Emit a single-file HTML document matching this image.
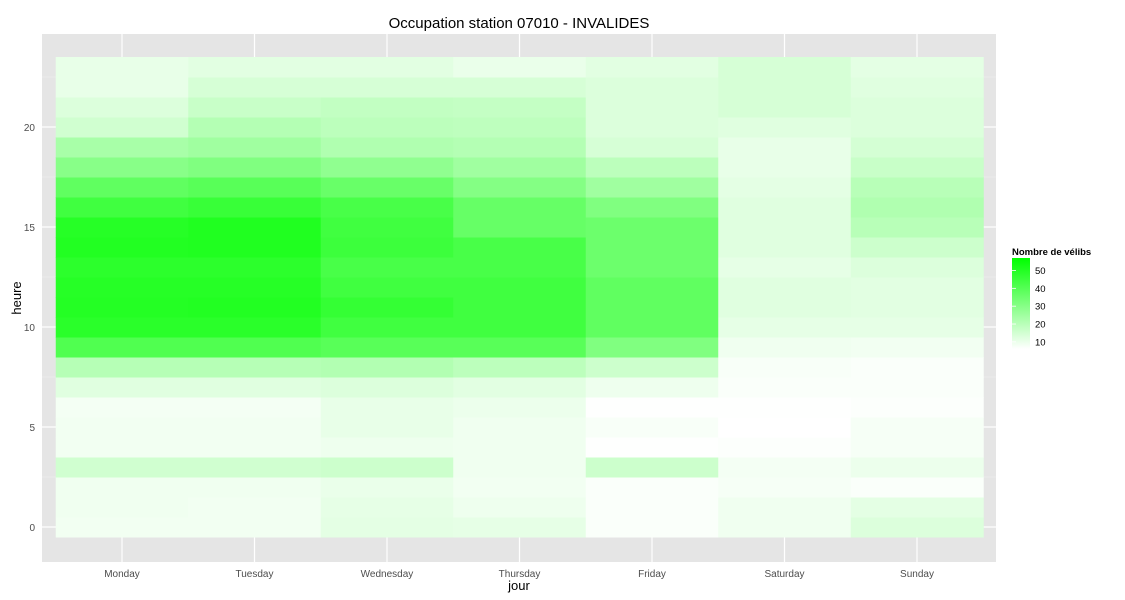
<!DOCTYPE html>
<html><head><meta charset="utf-8">
<style>
body{margin:0;background:#fff;font-family:"Liberation Sans",Arial,sans-serif;}
svg{display:block}
</style></head>
<body>
<svg id="chart" width="1125" height="600" xmlns="http://www.w3.org/2000/svg">
<text x="519" y="28" text-anchor="middle" font-size="15" fill="#000">Occupation station 07010 - INVALIDES</text>
<rect x="42" y="34" width="954" height="528" fill="#e5e5e5"/>
<g id="grid"></g>
<g id="tiles"></g>
<g id="axes"></g>
<text x="519" y="590" text-anchor="middle" font-size="13" fill="#000">jour</text>
<text transform="translate(21,298) rotate(-90)" text-anchor="middle" font-size="13" fill="#000">heure</text>
<g id="legend">
<text x="1012" y="255" font-size="9.5" font-weight="bold" fill="#000">Nombre de vélibs</text>
<defs><linearGradient id="lg" x1="0" y1="1" x2="0" y2="0"><stop offset="0" stop-color="#ffffff"/><stop offset="1" stop-color="#00ff00"/></linearGradient></defs>
<rect x="1012" y="258" width="18" height="91" fill="url(#lg)"/>
</g>
</svg>
<script>
const days = ["Monday","Tuesday","Wednesday","Thursday","Friday","Saturday","Sunday"];
const hours = [0,1,2,3,4,5,6,7,8,9,10,11,12,13,14,15,16,17,18,19,20,21,22,23];
const yTicks = [0,5,10,15,20];
const legendTicks = [10,20,30,40,50];
// values[hour] = [Mon..Sun]
const values = [
[8.6,8.6,11.4,11,7,9,13],
[9,8.6,11,9.4,7,9,11.4],
[9,9,10.2,8.6,7,7.8,7],
[15.4,15.4,16.2,9,16.2,8.2,9.8],
[8.6,8.6,9.4,9,6.2,6.6,7.8],
[8.6,8.6,10.6,9,7.4,6,7.8],
[8.2,8.2,10.6,9.8,6.2,6.2,6.6],
[12.2,12.2,13,11.8,9.4,7,7],
[20.6,20.6,21.4,19.4,16.2,7.4,7],
[41,41,39.4,39.4,31.4,9,8.6],
[48.6,48.6,44.2,44.2,37.8,11,11],
[49.8,50.2,46.6,44.2,37.8,12.2,11.8],
[49.4,49.4,44.2,44.2,37.8,12.2,11.8],
[48.2,48.2,42.6,42.6,35.4,11,13],
[50.2,50.6,45,42.6,35.4,12.2,16.2],
[49.4,50.6,44.2,36.6,35.4,12.2,20.2],
[44.2,45.8,42.6,36.6,31.4,12.2,21.8],
[37.8,39.4,36.2,30.6,25,11.4,20.2],
[29.8,31.4,28.2,25,19.4,10.6,17],
[23.4,25,21.8,21,14.2,10.6,14.6],
[15.4,21,19.4,19,13,12.2,13],
[13,17,18.2,17.8,13,14.2,13],
[10.6,14.2,14.2,14.2,13,14.2,12.2],
[10.6,11.8,11.8,10.2,11.8,14.2,11.4]
];
const NS="http://www.w3.org/2000/svg";
const vMin=6, vMax=57;
const x0=55.75, colW=132.5, yZero=527, rowH=20;
const xPos=i=>x0+colW*(i+0.5);
const yPos=h=>yZero-h*rowH;
const legY=v=>349-(v-vMin)/(vMax-vMin)*91;
function color(v){const t=Math.max(0,Math.min(1,(v-vMin)/(vMax-vMin)));const c=Math.round(255*(1-t));return `rgb(${c},255,${c})`;}
function mk(tag,attrs,parent){const e=document.createElementNS(NS,tag);for(const k in attrs)e.setAttribute(k,attrs[k]);parent.appendChild(e);return e;}
const grid=document.getElementById('grid'),tiles=document.getElementById('tiles'),axes=document.getElementById('axes'),legend=document.getElementById('legend');
// minor y grid
for(let k=0;k<yTicks.length;k++){const v=yTicks[k]+2.5;const l=mk('line',{x1:42,x2:996,y1:yPos(v),y2:yPos(v),stroke:'#f2f2f2','stroke-width':0.6},grid);

}
yTicks.forEach(v=>{const l=mk('line',{x1:42,x2:996,y1:yPos(v),y2:yPos(v),stroke:'#fff','stroke-width':1.2},grid);


const t=mk('text',{x:35,y:yPos(v)+4,'text-anchor':'end','font-size':10,fill:'#4d4d4d'},axes);t.textContent=v;

});
days.forEach((d,i)=>{const l=mk('line',{x1:xPos(i),x2:xPos(i),y1:34,y2:562,stroke:'#fff','stroke-width':1.2},grid);


const t=mk('text',{x:xPos(i),y:577,'text-anchor':'middle','font-size':10,fill:'#4d4d4d'},axes);t.textContent=d;

});
hours.forEach((h,hi)=>{days.forEach((d,i)=>{const r=mk('rect',{x:x0+colW*i,y:yPos(h)-rowH/2,width:colW+0.5,height:rowH+0.5,fill:color(values[hi][i])},tiles);

});});
legendTicks.forEach(v=>{const l=mk('line',{x1:1012,x2:1016,y1:legY(v),y2:legY(v),stroke:'#fff','stroke-width':0.8},legend);


const t=mk('text',{x:1035,y:legY(v)+3.5,'font-size':9.5,fill:'#000'},legend);t.textContent=v;

});
</script>
</body></html>
